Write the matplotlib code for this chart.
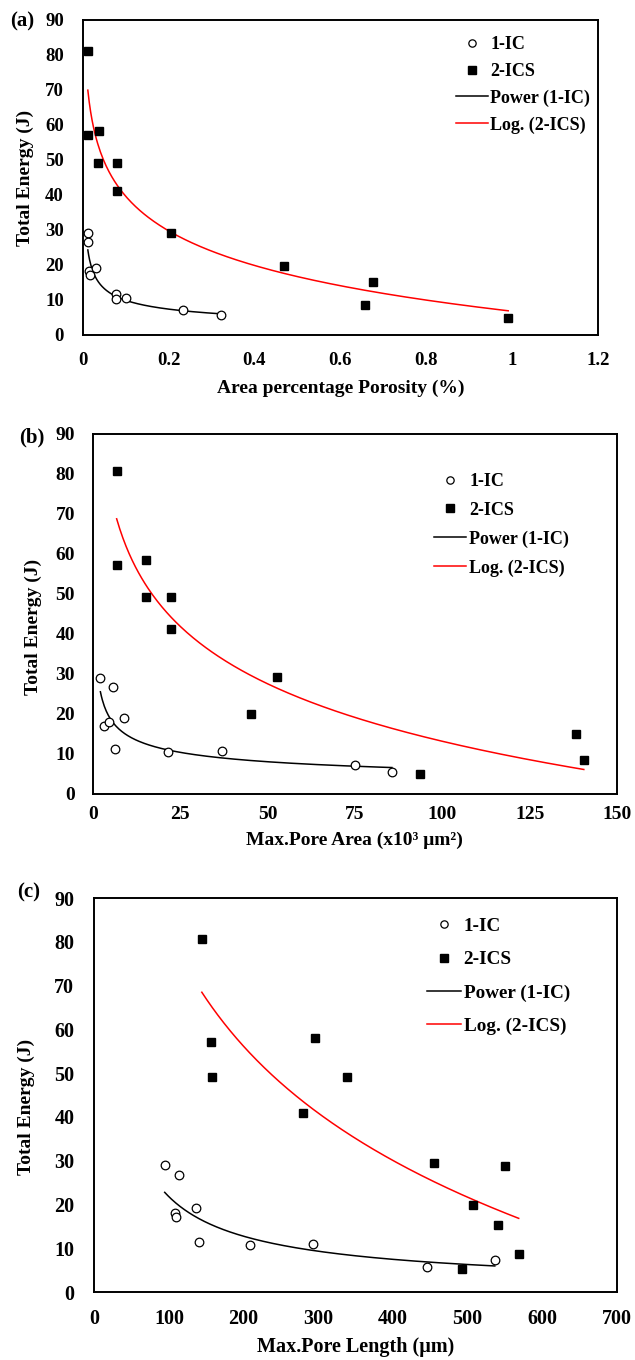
import numpy as np
import matplotlib
matplotlib.use("Agg")
import matplotlib.pyplot as plt

plt.rcParams['font.family'] = ['Liberation Serif', 'DejaVu Serif']
plt.rcParams['font.weight'] = 'bold'
plt.rcParams['axes.labelweight'] = 'bold'

# (a) area percentage porosity
por_ic = [0.012, 0.012, 0.014, 0.017, 0.030, 0.078, 0.077, 0.102, 0.233, 0.323]
por_ic_e = [29.0, 26.6, 18.3, 17.0, 19.0, 11.6, 10.4, 10.6, 7.1, 5.6]
por_ics = [0.012, 0.012, 0.038, 0.035, 0.079, 0.079, 0.206, 0.469, 0.675, 0.658, 0.991]
por_ics_e = [81.0, 57.1, 58.2, 49.1, 49.1, 41.1, 29.2, 19.7, 15.2, 8.5, 4.9]

# (b) max pore area, x10^3 um^2
area_ic = [2.2, 5.8, 3.3, 4.6, 8.9, 6.5, 21.6, 37.0, 75.0, 85.6]
area_ic_e = [28.9, 26.7, 17.0, 18.1, 19.0, 11.3, 10.5, 10.7, 7.2, 5.6]
area_ics = [6.85, 6.85, 15.2, 15.2, 22.4, 22.4, 52.7, 45.3, 138.2, 140.5, 93.7]
area_ics_e = [80.8, 57.3, 58.4, 49.2, 49.2, 41.2, 29.2, 19.9, 15.1, 8.5, 4.9]

# (c) max pore length, um
len_ic = [94.3, 113.8, 108.4, 110.0, 136.0, 140.3, 208.0, 292.6, 445.4, 536.4]
len_ic_e = [28.9, 26.7, 18.1, 17.1, 19.2, 11.5, 10.8, 10.9, 5.7, 7.2]
len_ics = [144.0, 156.6, 157.7, 295.8, 338.0, 279.6, 455.0, 550.0, 507.0, 540.7, 568.4, 492.0]
len_ics_e = [80.6, 57.2, 49.1, 58.1, 49.1, 41.0, 29.4, 28.8, 19.9, 15.2, 8.6, 5.3]

panels = [
    dict(tag='(a)', x_ic=por_ic, y_ic=por_ic_e, x_ics=por_ics, y_ics=por_ics_e,
         xlabel='Area percentage Porosity (%)', xlim=(0, 1.2), xstep=0.2,
         rect=[0.1302, 0.7537, 0.8115, 0.2316], tagpos=(22, 21),
         tick_fs=13.5, lab_fs=14, leg_fs=13,
         ypad=13.5, xpad=12.5, xlab_y=-0.168, ylab=(-0.112, 0.5),
         leg=(0.724, 0.948), lspace=0.53, hpad=0.12),
    dict(tag='(b)', x_ic=area_ic, y_ic=area_ic_e, x_ics=area_ics, y_ics=area_ics_e,
         xlabel='Max.Pore Area (x10³ μm²)', xlim=(0, 150), xstep=25,
         rect=[0.146, 0.4162, 0.8257, 0.2647], tagpos=(32, 437),
         tick_fs=14, lab_fs=14, leg_fs=13,
         ypad=12.7, xpad=9.0, xlab_y=-0.128, ylab=(-0.114, 0.464),
         leg=(0.650, 0.892), lspace=0.65, hpad=0.2),
    dict(tag='(c)', x_ic=len_ic, y_ic=len_ic_e, x_ics=len_ics, y_ics=len_ics_e,
         xlabel='Max.Pore Length (μm)', xlim=(0, 700), xstep=100,
         rect=[0.1485, 0.05, 0.8231, 0.2897], tagpos=(29, 892),
         tick_fs=14.5, lab_fs=14.5, leg_fs=13.8,
         ypad=14.4, xpad=12.5, xlab_y=-0.14, ylab=(-0.13, 0.47),
         leg=(0.636, 0.950), lspace=0.83, hpad=0.15),
]


def fmt(v):
    return '%g' % round(v, 6)


fig = plt.figure(figsize=(6.35, 13.6), dpi=100)
for p in panels:
    ax = fig.add_axes(p['rect'])
    x_ic = np.array(p['x_ic'])
    y_ic = np.array(p['y_ic'])
    x_ics = np.array(p['x_ics'])
    y_ics = np.array(p['y_ics'])

    ax.plot(x_ic, y_ic, 'o', ms=6.2, mfc='white', mec='black', mew=0.9,
            label='1-IC', zorder=3)
    ax.plot(x_ics, y_ics, 's', ms=6, mfc='black', mec='black',
            label='2-ICS', zorder=3)

    # power trend: ln y = b ln x + ln a
    b, lna = np.polyfit(np.log(x_ic), np.log(y_ic), 1)
    xs = np.linspace(x_ic.min(), x_ic.max(), 300)
    ax.plot(xs, np.exp(lna) * xs ** b, color='black', lw=1.1,
            label='Power (1-IC)', zorder=2)

    # logarithmic trend: y = a ln x + c
    a, c = np.polyfit(np.log(x_ics), y_ics, 1)
    xs = np.linspace(x_ics.min(), x_ics.max(), 300)
    ax.plot(xs, a * np.log(xs) + c, color='red', lw=1.1,
            label='Log. (2-ICS)', zorder=2)

    ax.set_xlim(*p['xlim'])
    ax.set_ylim(0, 90)
    xt = np.arange(p['xlim'][0], p['xlim'][1] + p['xstep'] / 2, p['xstep'])
    ax.set_xticks(xt)
    ax.set_xticklabels([fmt(v) for v in xt])
    ax.set_yticks(np.arange(0, 91, 10))
    ax.tick_params(axis='both', length=0, labelsize=p['tick_fs'])
    ax.tick_params(axis='y', pad=p['ypad'])
    ax.tick_params(axis='x', pad=p['xpad'])
    for lab in ax.get_xticklabels() + ax.get_yticklabels():
        lab.set_fontweight('bold')
    for s in ax.spines.values():
        s.set_linewidth(1.4)

    ax.set_xlabel(p['xlabel'], fontsize=p['lab_fs'], fontweight='bold')
    ax.xaxis.label.set_va('center')
    ax.xaxis.set_label_coords(0.5, p['xlab_y'])
    ax.set_ylabel('Total Energy (J)', fontsize=14, fontweight='bold')
    ax.yaxis.label.set_va('center')
    ax.yaxis.set_label_coords(*p['ylab'])

    ax.legend(loc='upper left', bbox_to_anchor=p['leg'], frameon=False,
              fontsize=p['leg_fs'], borderpad=0, borderaxespad=0,
              handlelength=1.78, handletextpad=p['hpad'],
              labelspacing=p['lspace'], markerscale=0.85)

    fig.text(p['tagpos'][0] / 635, 1 - p['tagpos'][1] / 1360, p['tag'],
             fontsize=15, fontweight='bold', ha='center', va='center')

fig.savefig('out.png', dpi=100)
